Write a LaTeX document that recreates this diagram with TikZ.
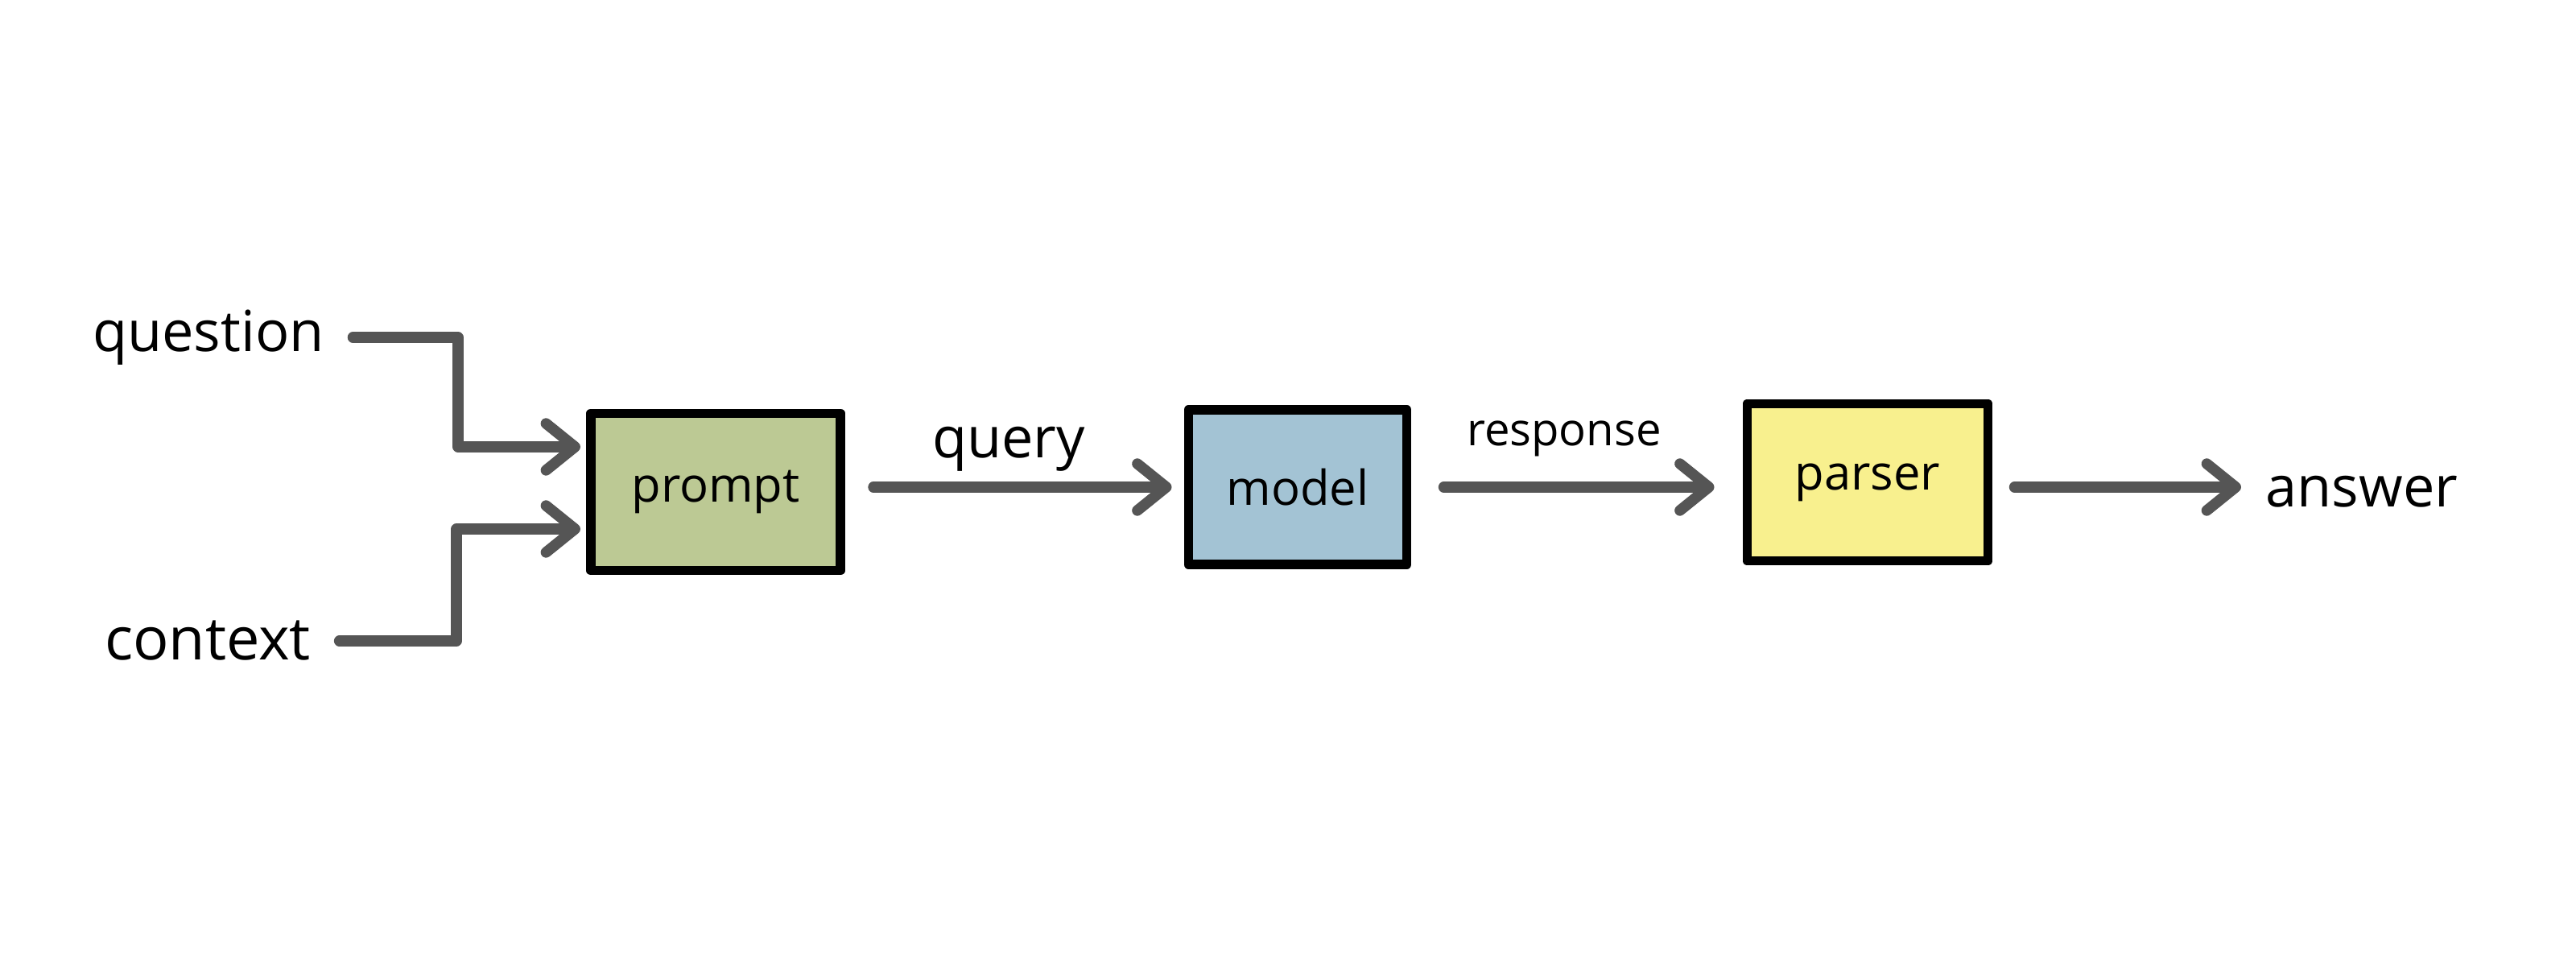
\documentclass[tikz,border=0pt]{standalone}
\usepackage{fontspec}
\setmainfont{Open Sans}
\usetikzlibrary{arrows.meta}

\definecolor{promptgreen}{HTML}{BCC994}
\definecolor{modelblue}{HTML}{A3C3D4}
\definecolor{parseryellow}{HTML}{F8F08E}
\definecolor{arrowgray}{HTML}{555555}

\begin{document}
\begin{tikzpicture}[
  conn/.style={draw=arrowgray, line width=3.8pt, line cap=round, line join=round,
    -{Straight Barb[length=3.6mm,width=5.8mm,round]}},
  stage/.style={draw=black, line width=3.4pt, inner sep=0pt, line join=round,
    font=\fontsize{17}{20}\selectfont},
  lbl/.style={inner sep=0pt, font=\fontsize{20}{24}\selectfont},
  smalllbl/.style={inner sep=0pt, font=\fontsize{16}{19}\selectfont},
]
\useasboundingbox (0,0) rectangle (32,12);

% pipeline stages
\node[stage, fill=promptgreen, minimum width=3.10cm, minimum height=1.95cm] (prompt) at (8.89,5.89) {prompt};
\node[stage, fill=modelblue, minimum width=2.71cm, minimum height=1.92cm] (model) at (16.12,5.95) {model};
\node[stage, fill=parseryellow, minimum width=2.99cm, minimum height=1.95cm] (parser) at (23.20,6.01) {parser};

% inputs and output
\node[lbl] (question) at (2.59,7.81) {question};
\node[lbl, font=\fontsize{21}{25}\selectfont] (context) at (2.58,4.04) {context};
\node[lbl] (answer) at (29.34,5.89) {answer};

% edge labels
\node[lbl] (query) at (12.53,6.42) {query};
\node[smalllbl] (response) at (19.43,6.55) {response};

% bend points of the two input lines, and the height of the main flow line
\coordinate (qbend) at (5.69,7);
\coordinate (cbend) at (5.67,5);
\coordinate (flow) at (0,5.95);

% connectors
\draw[conn] ([xshift=3.5mm]question.east) -- (question.east -| qbend)
  |- ([yshift=5.6mm,xshift=-2pt]prompt.west);
\draw[conn] ([xshift=3.5mm]context.east) -- (context.east -| cbend)
  |- ([yshift=-4.6mm,xshift=-2pt]prompt.west);
\draw[conn] ([xshift=3.5mm]prompt.east |- flow) -- ([xshift=-1.5mm]model.west |- flow);
\draw[conn] ([xshift=4mm]model.east |- flow) -- ([xshift=-3.5mm]parser.west |- flow);
\draw[conn] ([xshift=2.7mm]parser.east |- flow) -- ([xshift=-3mm]answer.west |- flow);
\end{tikzpicture}
\end{document}
